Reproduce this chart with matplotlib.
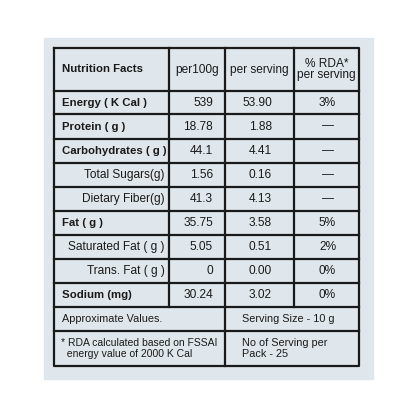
import matplotlib
matplotlib.use("Agg")
import matplotlib.pyplot as plt
from matplotlib.patches import Rectangle

plt.rcParams['font.family'] = ['Liberation Sans', 'DejaVu Sans']

nutrients = ["Energy ( K Cal )", "Protein ( g )", "Carbohydrates ( g )", "Total Sugars(g)",
             "Dietary Fiber(g)", "Fat ( g )", "Saturated Fat ( g )", "Trans. Fat ( g )", "Sodium (mg)"]
bold = [True, True, True, False, False, True, False, False, True]
indent = [False, False, False, True, True, False, True, True, False]
per100g = ["539", "18.78", "44.1", "1.56", "41.3", "35.75", "5.05", "0", "30.24"]
per_serving = ["53.90", "1.88", "4.41", "0.16", "4.13", "3.58", "0.51", "0.00", "3.02"]
rda = ["3%", "—", "—", "—", "—", "5%", "2%", "0%", "0%"]
headers = ["Nutrition Facts", "per100g", "per serving", "% RDA*\nper serving"]

fig = plt.figure(figsize=(4.16, 4.16), dpi=100)
ax = fig.add_axes([0, 0, 1, 1])
ax.set_xlim(0, 416); ax.set_ylim(416, 0); ax.axis('off')
ax.add_patch(Rectangle((44, 38), 329, 341, color='#dfe7ec', zorder=0))

L, C1, C2, C3, R = 54, 169, 225, 294, 359
rows = [48, 91, 114, 139, 163, 187, 211, 235, 259, 283, 307, 331, 366]
k = dict(color='#1a1a1a', lw=1.6)
ax.plot([L, R, R, L, L], [rows[0], rows[0], rows[-1], rows[-1], rows[0]], **k)
for y in rows[1:-1]:
    ax.plot([L, R], [y, y], **k)
for x in (C1, C3):
    ax.plot([x, x], [rows[0], rows[10]], **k)
ax.plot([C2, C2], [rows[0], rows[-1]], **k)

fs = 8.6
fsb = 8.2
tc = '#1a1a1a'
yc = (rows[0] + rows[1]) / 2
ax.text(62, yc, headers[0], fontsize=fsb, weight='bold', va='center', color=tc)
ax.text((C1 + C2) / 2, yc, headers[1], fontsize=fs, ha='center', va='center', color=tc)
ax.text((C2 + C3) / 2, yc, headers[2], fontsize=fs, ha='center', va='center', color=tc)
ax.text((C3 + R) / 2, yc, headers[3], fontsize=fs, ha='center', va='center', color=tc, linespacing=0.95)

for i in range(len(nutrients)):
    y = (rows[i + 1] + rows[i + 2]) / 2
    if indent[i]:
        ax.text(C1 - 4, y, nutrients[i], fontsize=fs, ha='right', va='center', color=tc)
    else:
        ax.text(62, y, nutrients[i], fontsize=fsb, ha='left', va='center', color=tc,
                weight='bold' if bold[i] else 'normal')
    ax.text(C2 - 12, y, per100g[i], fontsize=fs, ha='right', va='center', color=tc)
    ax.text(C3 - 22, y, per_serving[i], fontsize=fs, ha='right', va='center', color=tc)
    ax.text((C3 + R) / 2 + 1, y, rda[i], fontsize=fs, ha='center', va='center', color=tc)

fs2 = 7.8
ax.text(62, (rows[10] + rows[11]) / 2, "Approximate Values.", fontsize=fs2, va='center', color=tc)
ax.text(242, (rows[10] + rows[11]) / 2, "Serving Size - 10 g", fontsize=fs2, va='center', color=tc)
ax.text(61, (rows[11] + rows[12]) / 2, "* RDA calculated based on FSSAI\n  energy value of 2000 K Cal",
        fontsize=7.5, va='center', color=tc, linespacing=1.15)
ax.text(242, (rows[11] + rows[12]) / 2, "No of Serving per\nPack - 25",
        fontsize=fs2, va='center', color=tc, linespacing=1.15)

fig.savefig("out.png", dpi=100, facecolor='white')
